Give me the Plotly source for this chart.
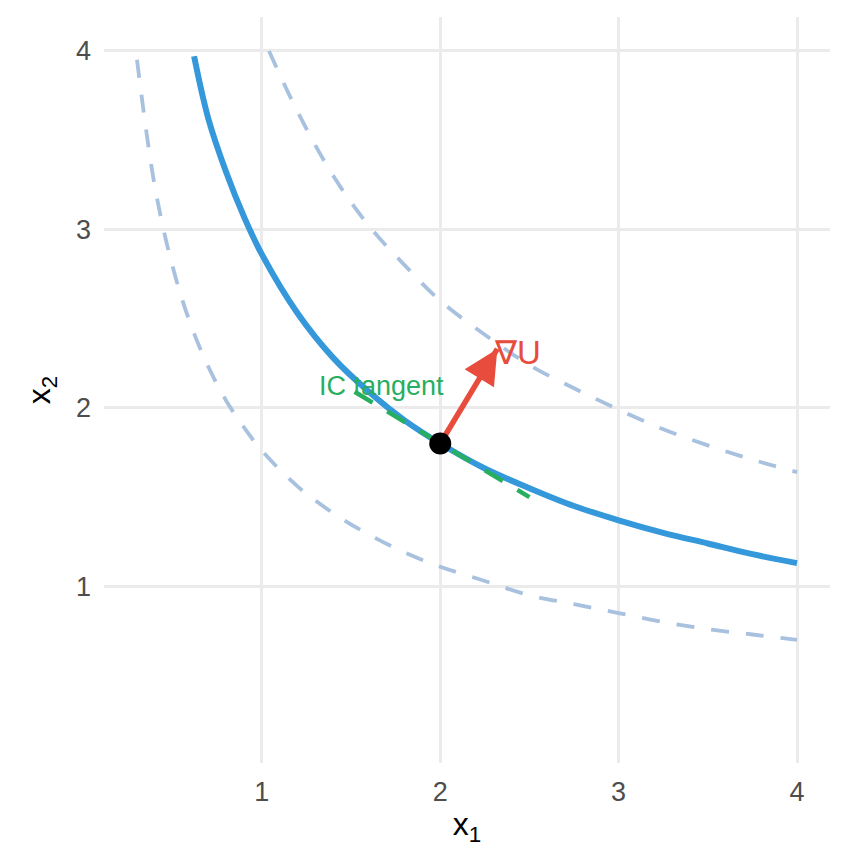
import plotly.graph_objects as go

# indifference curves
ic_x = [0.62, 0.7, 0.8, 0.9, 1.0, 1.2, 1.4, 1.6, 1.8, 2.0, 2.25, 2.5, 2.75, 3.0, 3.25, 3.5, 3.75, 4.0]
ic_y = [3.97, 3.62, 3.32, 3.07, 2.86, 2.53, 2.28, 2.09, 1.93, 1.80, 1.66, 1.55, 1.45, 1.37, 1.30, 1.24, 1.18, 1.13]

hi_x = [1.04, 1.2, 1.4, 1.6, 1.8, 2.0, 2.25, 2.5, 2.75, 3.0, 3.25, 3.5, 3.75, 4.0]
hi_y = [4.0, 3.66, 3.30, 3.02, 2.80, 2.60, 2.41, 2.24, 2.11, 1.99, 1.88, 1.79, 1.71, 1.64]

lo_x = [0.3, 0.4, 0.5, 0.6, 0.7, 0.8, 0.9, 1.0, 1.2, 1.4, 1.6, 1.8, 2.0, 2.25, 2.5, 2.75, 3.0, 3.25, 3.5, 3.75, 4.0]
lo_y = [3.95, 3.24, 2.79, 2.47, 2.23, 2.04, 1.89, 1.76, 1.56, 1.41, 1.29, 1.19, 1.11, 1.03, 0.95, 0.90, 0.85, 0.80, 0.76, 0.73, 0.70]

tan_x = [1.52, 2.5]
tan_y = [2.09, 1.5]

pt_x = [2.0]
pt_y = [1.8]

grad_x = [2.0, 2.32]
grad_y = [1.8, 2.33]

FONT = "Liberation Sans, Arial, sans-serif"
BLUE = "#3498DB"
RED = "#E74C3C"
GREEN = "#27AE60"
LIGHT = "#A7C1DF"

fig = go.Figure()

for xs, ys in [(lo_x, lo_y), (hi_x, hi_y)]:
    fig.add_trace(go.Scatter(x=xs, y=ys, mode="lines", line_shape="spline",
                             line=dict(color=LIGHT, width=3.8, dash="18px,17px")))

fig.add_trace(go.Scatter(x=ic_x, y=ic_y, mode="lines", line_shape="spline",
                         line=dict(color=BLUE, width=6)))

fig.add_trace(go.Scatter(x=tan_x, y=tan_y, mode="lines",
                         line=dict(color=GREEN, width=4.5, dash="21px,17px")))

# arrow shaft (head is an annotation so the point can sit on top)
fig.add_trace(go.Scatter(x=grad_x, y=grad_y, mode="lines",
                         line=dict(color=RED, width=5.5)))

fig.add_trace(go.Scatter(x=pt_x, y=pt_y, mode="markers",
                         marker=dict(color="black", size=22)))

fig.add_annotation(x=grad_x[1], y=grad_y[1], ax=-8, ay=13, text="",
                   showarrow=True, arrowhead=2, arrowsize=1.25, arrowwidth=5.5,
                   arrowcolor=RED, standoff=0)
fig.add_annotation(x=grad_x[1] - 0.03, y=grad_y[1] - 0.02, text="∇U", showarrow=False,
                   xanchor="left", yanchor="middle",
                   font=dict(family=FONT, size=33, color=RED))
fig.add_annotation(x=1.67, y=2.12, text="IC tangent", showarrow=False,
                   xanchor="center", yanchor="middle",
                   font=dict(family=FONT, size=27, color=GREEN))

axis_common = dict(showgrid=True, gridcolor="#EBEBEB", gridwidth=3, zeroline=False,
                   showline=False, ticks="", automargin=False,
                   tickfont=dict(family=FONT, size=27, color="#4D4D4D"))

fig.update_xaxes(range=[0.115, 4.185], tickvals=[1, 2, 3, 4], ticklabelstandoff=10,
                 title=dict(text="x<sub>1</sub>", font=dict(family=FONT, size=32, color="black"),
                            standoff=6),
                 **axis_common)
fig.update_yaxes(range=[0.01, 4.19], tickvals=[1, 2, 3, 4], ticklabelstandoff=12,
                 title=dict(text="x<sub>2</sub>", font=dict(family=FONT, size=32, color="black"),
                            standoff=15),
                 **axis_common)

# page body adds ~8px offset, so margins are shifted to compensate
fig.update_layout(width=864, height=864, showlegend=False,
                  plot_bgcolor="white", paper_bgcolor="white",
                  margin=dict(l=96, r=42, t=9, b=109))

fig.write_html("out.html")
